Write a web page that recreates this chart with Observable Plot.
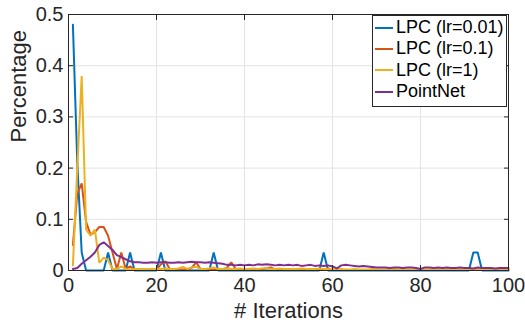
<!DOCTYPE html>
<html>
<head>
<meta charset="utf-8">
<script src="https://cdn.jsdelivr.net/npm/d3@7"></script>
<script src="https://cdn.jsdelivr.net/npm/@observablehq/plot@0.6"></script>
<style>
  html, body { margin: 0; padding: 0; background: #fff; }
  #wrap { position: relative; width: 525px; height: 327px; font-family: "Liberation Sans", Arial, sans-serif; }
  #legend { position: absolute; left: 372px; top: 15px; width: 135px; height: 92px; box-sizing: border-box;
            border: 1px solid #262626; background: #fff; font-size: 18px; color: #000; padding-top: 1px; }
  .row { height: 21.3px; display: flex; align-items: center; white-space: nowrap; }
  .row svg { margin-left: 2px; margin-right: 3px; }
</style>
</head>
<body>
<div id="wrap"></div>
<script>
const seriesNames = ["LPC (lr=0.01)", "LPC (lr=0.1)", "LPC (lr=1)", "PointNet"];
const seriesColors = ["#0072BD", "#D95319", "#EDB120", "#7E2F8E"];
const xTicks = [0, 20, 40, 60, 80, 100];
const yTicks = [0, 0.1, 0.2, 0.3, 0.4, 0.5];
const xLabel = "# Iterations";
const yLabel = "Percentage";

const lpc001 = [
  0.48, 0.21, 0.035, 0, 0, 0, 0, 0, 0.035, 0,
  0, 0, 0, 0.035, 0, 0, 0, 0, 0, 0,
  0.035, 0, 0, 0, 0, 0, 0, 0, 0, 0,
  0, 0, 0.035, 0, 0, 0, 0, 0, 0, 0,
  0, 0, 0, 0, 0, 0, 0, 0, 0, 0,
  0, 0, 0, 0, 0, 0, 0, 0.035, 0, 0,
  0, 0, 0, 0, 0, 0, 0, 0, 0, 0,
  0, 0, 0, 0, 0, 0, 0, 0, 0, 0,
  0, 0, 0, 0, 0, 0, 0, 0, 0, 0,
  0, 0.035, 0.035, 0, 0, 0, 0, 0, 0, 0
];
const lpc01 = [
  0.05, 0.15, 0.17, 0.095, 0.07, 0.075, 0.085, 0.085, 0.068, 0.035,
  0.003, 0.035, 0.003, 0.008, 0.002, 0.002, 0.002, 0.002, 0.002, 0.002,
  0.012, 0.018, 0.003, 0.002, 0.002, 0.002, 0.002, 0.005, 0.016, 0.003,
  0.002, 0.002, 0.002, 0.002, 0.002, 0.005, 0.016, 0.003, 0.002, 0.002,
  0.002, 0.002, 0.002, 0.002, 0.005, 0.006, 0.002, 0.001, 0.001, 0.001,
  0.001, 0.001, 0.001, 0.001, 0.001, 0.001, 0.001, 0.001, 0.004, 0.001,
  0.001, 0.001, 0.001, 0.001, 0.001, 0.001, 0.001, 0.001, 0.001, 0.001,
  0.001, 0.001, 0.001, 0.001, 0.001, 0.001, 0.001, 0.001, 0.001, 0.001,
  0.001, 0.001, 0.001, 0.001, 0.001, 0.001, 0.001, 0.001, 0.001, 0.001,
  0.001, 0.001, 0.001, 0.001, 0.001, 0.001, 0.001, 0.001, 0.001, 0.001
];
const lpc1 = [
  0.01, 0.2, 0.38, 0.08, 0.068, 0.08, 0.015, 0.025, 0.02, 0.003,
  0.003, 0.008, 0.003, 0.002, 0.003, 0.003, 0.003, 0.002, 0.003, 0.003,
  0.003, 0.004, 0.003, 0.003, 0.004, 0.007, 0.003, 0.006, 0.007, 0.003,
  0.003, 0.004, 0.006, 0.003, 0.003, 0.004, 0.003, 0.003, 0.004, 0.003,
  0.003, 0.004, 0.003, 0.004, 0.005, 0.003, 0.003, 0.004, 0.003, 0.003,
  0.003, 0.003, 0.004, 0.003, 0.003, 0.003, 0.004, 0.003, 0.003, 0.003,
  0.002, 0.003, 0.002, 0.002, 0.003, 0.002, 0.002, 0.002, 0.003, 0.002,
  0.002, 0.002, 0.002, 0.003, 0.002, 0.002, 0.002, 0.002, 0.002, 0.003,
  0.002, 0.002, 0.002, 0.002, 0.002, 0.002, 0.003, 0.002, 0.002, 0.002,
  0.002, 0.002, 0.002, 0.002, 0.002, 0.002, 0.002, 0.002, 0.002, 0.002
];
const pointnet = [
  0.003, 0.005, 0.013, 0.02, 0.027, 0.035, 0.05, 0.055, 0.048, 0.04,
  0.03, 0.026, 0.022, 0.018, 0.016, 0.016, 0.015, 0.015, 0.016, 0.015,
  0.016, 0.016, 0.015, 0.015, 0.016, 0.015, 0.016, 0.017, 0.016, 0.016,
  0.015, 0.016, 0.015, 0.014, 0.013, 0.011, 0.011, 0.010, 0.011, 0.010,
  0.011, 0.010, 0.012, 0.011, 0.012, 0.011, 0.010, 0.011, 0.010, 0.011,
  0.010, 0.011, 0.009, 0.010, 0.011, 0.009, 0.010, 0.009, 0.010, 0.008,
  0.004, 0.010, 0.011, 0.010, 0.009, 0.008, 0.009, 0.008, 0.007, 0.006,
  0.006, 0.006, 0.005, 0.006, 0.006, 0.005, 0.006, 0.006, 0.005, 0.003,
  0.006, 0.006, 0.005, 0.006, 0.005, 0.006, 0.005, 0.005, 0.006, 0.005,
  0.005, 0.004, 0.006, 0.005, 0.005, 0.005, 0.004, 0.005, 0.005, 0.005
];

const allSeries = [lpc001, lpc01, lpc1, pointnet];
const data = allSeries.flatMap((arr, s) => arr.map((v, i) => ({iter: i + 1, value: v, series: seriesNames[s]})));

const textColor = "#262626";
const fmtY = d => String(d);

const chart = Plot.plot({
  width: 525,
  height: 327,
  marginLeft: 68,
  marginRight: 17,
  marginTop: 14,
  marginBottom: 57,
  style: { fontFamily: "'Liberation Sans', Arial, sans-serif", fontSize: "20px", color: textColor, background: "#fff" },
  x: { domain: [0, 100] },
  y: { domain: [0, 0.5] },
  color: { domain: seriesNames, range: seriesColors },
  marks: [
    Plot.gridX(xTicks, { stroke: "#e3e3e3", strokeOpacity: 1 }),
    Plot.gridY(yTicks, { stroke: "#e3e3e3", strokeOpacity: 1 }),
    ...seriesNames.map(name => Plot.line(data.filter(d => d.series === name), {
      x: "iter", y: "value", stroke: "series", strokeWidth: 2, strokeLinejoin: "miter"
    })),
    Plot.frame({ stroke: textColor, strokeWidth: 1 }),
    // tick labels
    Plot.axisX({ ticks: xTicks, tickSize: 0, tickPadding: 7, label: null, fill: textColor }),
    Plot.axisY({ ticks: yTicks, tickSize: 0, tickPadding: 5, tickFormat: fmtY, label: null, fill: textColor }),
    // inward tick marks on all four sides
    Plot.axisX({ ticks: xTicks, anchor: "bottom", tickSize: 5, dy: -5, tickFormat: () => "", label: null, stroke: textColor }),
    Plot.axisX({ ticks: xTicks, anchor: "top", tickSize: 5, dy: 5, tickFormat: () => "", label: null, stroke: textColor }),
    Plot.axisY({ ticks: yTicks, anchor: "left", tickSize: 5, dx: 5, tickFormat: () => "", label: null, stroke: textColor }),
    Plot.axisY({ ticks: yTicks, anchor: "right", tickSize: 5, dx: -5, tickFormat: () => "", label: null, stroke: textColor }),
    // axis titles
    Plot.text([xLabel], { frameAnchor: "bottom", dy: 47, fontSize: 22, fill: textColor }),
    Plot.text([yLabel], { frameAnchor: "left", dx: -50, rotate: -90, fontSize: 22, fill: textColor })
  ]
});

const wrap = document.getElementById("wrap");
wrap.appendChild(chart);

const legend = document.createElement("div");
legend.id = "legend";
seriesNames.forEach((name, i) => {
  const row = document.createElement("div");
  row.className = "row";
  row.innerHTML = `<svg width="18" height="4"><line x1="0" y1="2" x2="18" y2="2" stroke="${seriesColors[i]}" stroke-width="2"/></svg><span>${name}</span>`;
  legend.appendChild(row);
});
wrap.appendChild(legend);
</script>
</body>
</html>
